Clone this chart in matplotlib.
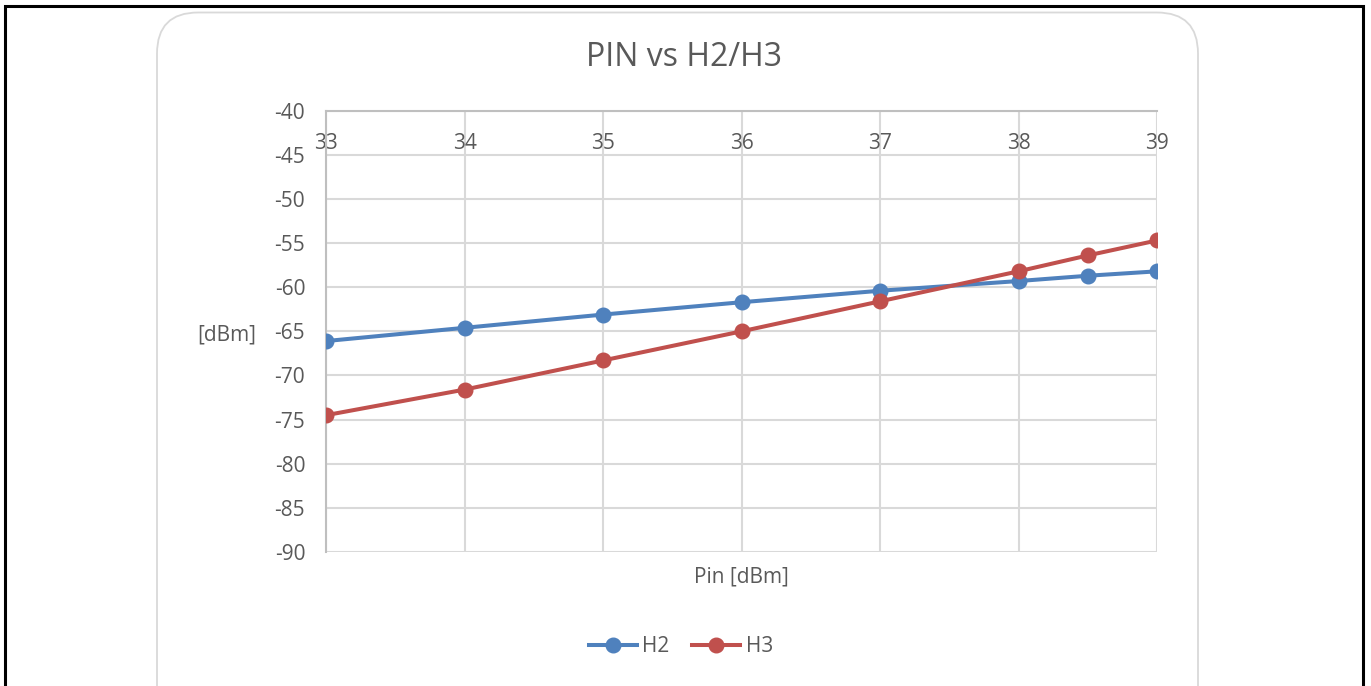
import matplotlib.pyplot as plt
from matplotlib.patches import FancyBboxPatch, Rectangle
from matplotlib.lines import Line2D

# ---------------------------------------------------------
# Data
# ---------------------------------------------------------
pin = [33, 34, 35, 36, 37, 38, 38.5, 39]
h2 = [-66.1, -64.6, -63.1, -61.7, -60.4, -59.3, -58.7, -58.2]
h3 = [-74.5, -71.6, -68.3, -65.0, -61.6, -58.2, -56.4, -54.7]
x_ticks = [33, 34, 35, 36, 37, 38, 39]
y_ticks = list(range(-90, -35, 5))

BLUE = "#4f81bd"
RED = "#c0504d"
GRID = "#d9d9d9"
TEXT = "#595959"

plt.rcParams["font.family"] = ["Open Sans", "DejaVu Sans"]
plt.rcParams["axes.unicode_minus"] = False

W, H = 1371, 686
fig = plt.figure(figsize=(W / 100, H / 100), dpi=100)

# outer black frame and rounded chart area
fig.patches.append(Rectangle((5 / W, -0.05), 1358 / W, 1.05 - 5.5 / H,
                             transform=fig.transFigure, fill=False,
                             edgecolor="black", lw=2.2, zorder=0))
fig.patches.append(FancyBboxPatch((157 / W, -0.1), (1198 - 157) / W, 1.1 - 12.5 / H,
                                  boxstyle="round,pad=0,rounding_size=0.03",
                                  transform=fig.transFigure, fill=False,
                                  edgecolor=GRID, lw=1.3, zorder=0,
                                  mutation_aspect=W / H))

ax = fig.add_axes([326 / W, 1 - 552 / H, 831 / W, (552 - 110.7) / H])
ax.set_xlim(33, 39)
ax.set_ylim(-90, -40)

ax.plot(pin, h2, color=BLUE, lw=2.9, marker="o", ms=10.5, label="H2",
        solid_capstyle="round", zorder=3)
ax.plot(pin, h3, color=RED, lw=2.9, marker="o", ms=10.5, label="H3",
        solid_capstyle="round", zorder=3)

ax.set_yticks(y_ticks)
ax.set_xticks(x_ticks)
ax.grid(True, color=GRID, lw=1.5, zorder=0)
ax.set_axisbelow(True)

for side in ["right", "bottom"]:
    ax.spines[side].set_visible(False)
for side in ["left", "top"]:
    ax.spines[side].set_color("#bfbfbf")
    ax.spines[side].set_linewidth(1.5)

ax.tick_params(axis="y", length=0, pad=15, labelsize=15, labelcolor=TEXT)
ax.xaxis.tick_top()
ax.tick_params(axis="x", length=0, pad=-31, labelsize=15, labelcolor=TEXT)

fig.text(684 / W, 1 - 58 / H, "PIN vs H2/H3", ha="center", va="center",
         fontsize=23, color=TEXT)
fig.text(227 / W, 1 - 335 / H, "[dBm]", ha="center", va="center",
         fontsize=15, color=TEXT)
fig.text(741 / W, 1 - 577 / H, "Pin [dBm]", ha="center", va="center",
         fontsize=15, color=TEXT)

handles = [Line2D([], [], color=BLUE, lw=2.9, marker="o", ms=10.5),
           Line2D([], [], color=RED, lw=2.9, marker="o", ms=10.5)]
fig.legend(handles, ["H2", "H3"], loc="center", bbox_to_anchor=(681 / W, 1 - 647 / H),
           ncol=2, frameon=False, fontsize=15, labelcolor=TEXT,
           handlelength=2.3, handletextpad=0.25, columnspacing=1.1)

fig.savefig("out.png", dpi=100)
